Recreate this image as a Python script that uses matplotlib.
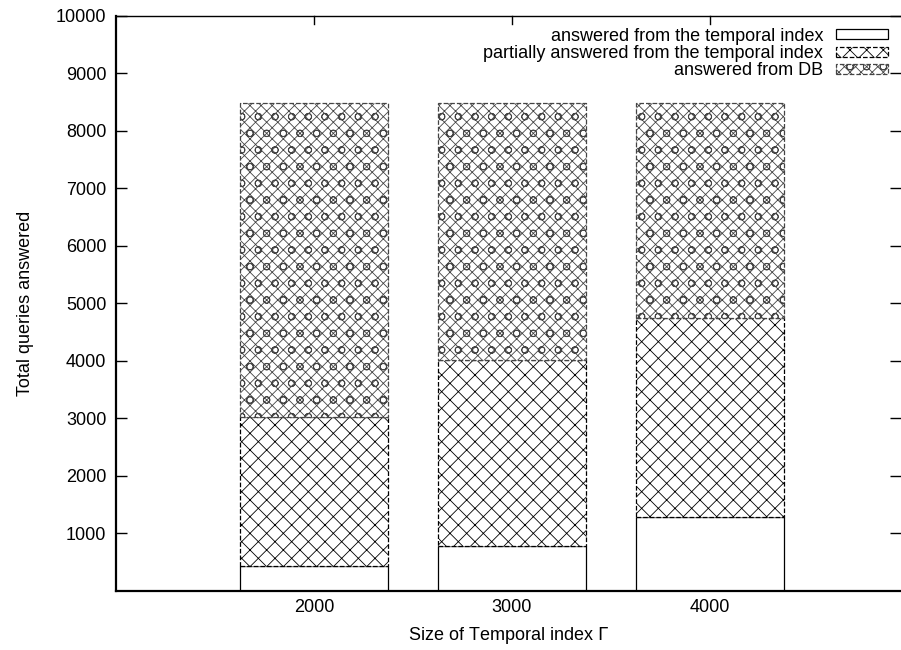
import numpy as np
import matplotlib.pyplot as plt

plt.rcParams['font.family'] = ['Liberation Sans', 'DejaVu Sans']
plt.rcParams['hatch.linewidth'] = 0.6

#-----------------------------------------------
# data
index_sizes = ['2000', '3000', '4000']
from_index = [440, 790, 1290]
partial_index = [2580, 3230, 3450]
from_db = [5460, 4460, 3740]

labels = ['answered from the temporal index',
          'partially answered from the temporal index',
          'answered from DB']
#-----------------------------------------------

fig = plt.figure(figsize=(9.01, 6.5), dpi=100)
ax = fig.add_axes([0.1287, 0.0908, 0.8713, 0.8846])

x = np.arange(len(index_sizes))
w = 0.75
bottom2 = np.array(from_index)
bottom3 = bottom2 + np.array(partial_index)

ax.bar(x, from_index, w, color='white', edgecolor='black', linewidth=0.9,
       label=labels[0])
ax.bar(x, partial_index, w, bottom=bottom2, color='white', edgecolor='black',
       hatch='xx', linestyle='--', linewidth=0.9, label=labels[1])
ax.bar(x, from_db, w, bottom=bottom3, color='white', edgecolor='#444444',
       hatch='xxxo', linestyle='--', linewidth=0.9, label=labels[2])

ax.set_xlim(-1, 2.965)
ax.set_ylim(0, 10000)
ax.set_xticks(x)
ax.set_xticklabels(index_sizes)
ax.set_yticks(np.arange(1000, 10001, 1000))

ax.tick_params(axis='y', direction='in', length=8, width=1, right=True,
               labelsize=13, pad=7)
ax.tick_params(axis='x', direction='in', length=0, labelsize=13, pad=6)
ax.spines['right'].set_visible(False)
ax.spines['left'].set_linewidth(1.6)
ax.spines['bottom'].set_linewidth(1.6)
ax.spines['top'].set_linewidth(1.0)

# top mirror ticks for x
for xi in x:
    ax.plot([xi, xi], [10000, 10000 - 140], color='black', linewidth=1, clip_on=False)

ax.set_ylabel('Total queries answered', fontsize=13, labelpad=16)
ax.set_xlabel(r'Size of Temporal index $\Gamma$', fontsize=13, labelpad=6)

leg = ax.legend(loc='upper right', bbox_to_anchor=(0.9985, 1.0), frameon=False,
                markerfirst=False, fontsize=13, handlelength=2.9,
                handleheight=0.45, handletextpad=0.7, labelspacing=0.02,
                borderaxespad=0.25)

fig.savefig('out.png', dpi=100)
